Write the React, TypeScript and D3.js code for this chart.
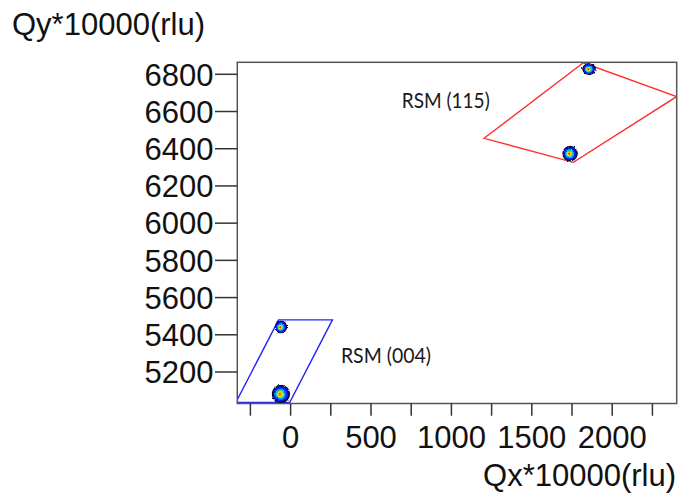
import React from 'react';
import * as d3 from 'd3';

// Reciprocal space map: scan windows and measured diffraction peaks (Qx, Qy in rlu × 10000)
const xTickValues = [-250, 0, 250, 500, 750, 1000, 1250, 1500, 1750, 2000, 2250];
const xTickLabels = [0, 500, 1000, 1500, 2000];
const yTickValues = [5200, 5400, 5600, 5800, 6000, 6200, 6400, 6600, 6800];

const window004Qx = [-340, -75, 260, -5];
const window004Qy = [5037, 5480, 5480, 5037];
const window115Qx = [1203, 1820, 2400, 1758];
const window115Qy = [6456, 6862, 6680, 6327];

const peakQx = [-60, -60, 1738, 1856];
const peakQy = [5082, 5442, 6374, 6828];
const peakSpreadQx = [59, 40, 50, 44];
const peakSpreadQy = [51, 36, 43, 33];

const windowNames = ['RSM (004)', 'RSM (115)'];

const W = 678;
const H = 493;
const plot = { left: 237.3, right: 676.7, top: 62.3, bottom: 403.5 };

const x = d3.scaleLinear().domain([-331.5, 2401]).range([plot.left, plot.right]);
const y = d3.scaleLinear().domain([5030.7, 6864.5]).range([plot.bottom, plot.top]);

const AXIS_FONT = '"Liberation Sans", Arial, sans-serif';
const NOTE_FONT = 'Lato, "Open Sans", sans-serif';

const polygonPath = (qx: number[], qy: number[]) =>
  d3.line<number>().x((_, i) => x(qx[i])).y((_, i) => y(qy[i])).curve(d3.curveLinearClosed)(qx) || '';

export default function App() {
  const labelPos = [
    { qx: 313, qy: 5247, len: 90 },
    { qx: 691, qy: 6617, len: 88 },
  ];
  return (
    <svg
      width={W}
      height={H}
      viewBox={`0 0 ${W} ${H}`}
      style={{ position: 'absolute', left: 0, top: 0, background: '#fff' }}
    >
      <defs>
        <clipPath id="plotClip">
          <rect x={plot.left} y={plot.top} width={plot.right - plot.left} height={plot.bottom - plot.top} />
        </clipPath>
        <radialGradient id="peakGrad" cx="0.5" cy="0.5" r="0.5" fx="0.44" fy="0.52">
          <stop offset="0%" stopColor="#e00000" />
          <stop offset="12%" stopColor="#ff7000" />
          <stop offset="24%" stopColor="#f4f000" />
          <stop offset="35%" stopColor="#40e070" />
          <stop offset="47%" stopColor="#00b8ff" />
          <stop offset="62%" stopColor="#0030ff" />
          <stop offset="78%" stopColor="#0018b0" />
          <stop offset="90%" stopColor="#000030" />
          <stop offset="100%" stopColor="#000000" stopOpacity="0.2" />
        </radialGradient>
        <filter id="rough" x="-30%" y="-30%" width="160%" height="160%">
          <feTurbulence type="fractalNoise" baseFrequency="0.7" numOctaves="1" seed="4" result="noise" />
          <feDisplacementMap in="SourceGraphic" in2="noise" scale="3" xChannelSelector="R" yChannelSelector="G" />
        </filter>
      </defs>

      {/* scan windows */}
      <g clipPath="url(#plotClip)" fill="none" strokeWidth={1.4} strokeLinejoin="miter">
        <path d={polygonPath(window004Qx, window004Qy)} stroke="#2323ff" />
        <path d={polygonPath(window115Qx, window115Qy)} stroke="#ff2d2d" />
      </g>

      {/* diffraction peaks */}
      <g clipPath="url(#plotClip)">
        <g filter="url(#rough)">
          {peakQx.map((qx, i) => (
            <ellipse
              key={i}
              cx={x(qx)}
              cy={y(peakQy[i])}
              rx={x(peakSpreadQx[i]) - x(0)}
              ry={y(0) - y(peakSpreadQy[i])}
              fill="url(#peakGrad)"
            />
          ))}
        </g>
      </g>

      {/* window annotations */}
      {windowNames.map((name, i) => (
        <text
          key={name}
          x={x(labelPos[i].qx)}
          y={y(labelPos[i].qy)}
          fontFamily={NOTE_FONT}
          fontSize={21.5}
          fill="#1a1a1a"
          textLength={labelPos[i].len}
          lengthAdjust="spacingAndGlyphs"
        >
          {name}
        </text>
      ))}

      {/* frame */}
      <rect
        x={plot.left}
        y={plot.top}
        width={plot.right - plot.left}
        height={plot.bottom - plot.top}
        fill="none"
        stroke="#555"
        strokeWidth={1.5}
      />

      {/* y axis */}
      <g fontFamily={AXIS_FONT} fontSize={31} fill="#111">
        {yTickValues.map((v) => (
          <g key={v}>
            <line x1={215} x2={plot.left} y1={y(v)} y2={y(v)} stroke="#333" strokeWidth={1.5} />
            <text x={213.5} y={y(v) + 11.2} textAnchor="end">
              {v}
            </text>
          </g>
        ))}
      </g>

      {/* x axis */}
      <g fontFamily={AXIS_FONT} fontSize={31} fill="#111">
        {xTickValues.map((v) => (
          <line key={v} x1={x(v)} x2={x(v)} y1={plot.bottom} y2={415.7} stroke="#333" strokeWidth={1.5} />
        ))}
        {xTickLabels.map((v) => (
          <text key={v} x={x(v)} y={448} textAnchor="middle">
            {v}
          </text>
        ))}
      </g>

      {/* axis titles */}
      <text x={12} y={35} fontFamily={AXIS_FONT} fontSize={31} fill="#111">
        Qy*10000(rlu)
      </text>
      <text x={676} y={486} textAnchor="end" fontFamily={AXIS_FONT} fontSize={31} fill="#111">
        Qx*10000(rlu)
      </text>
    </svg>
  );
}
